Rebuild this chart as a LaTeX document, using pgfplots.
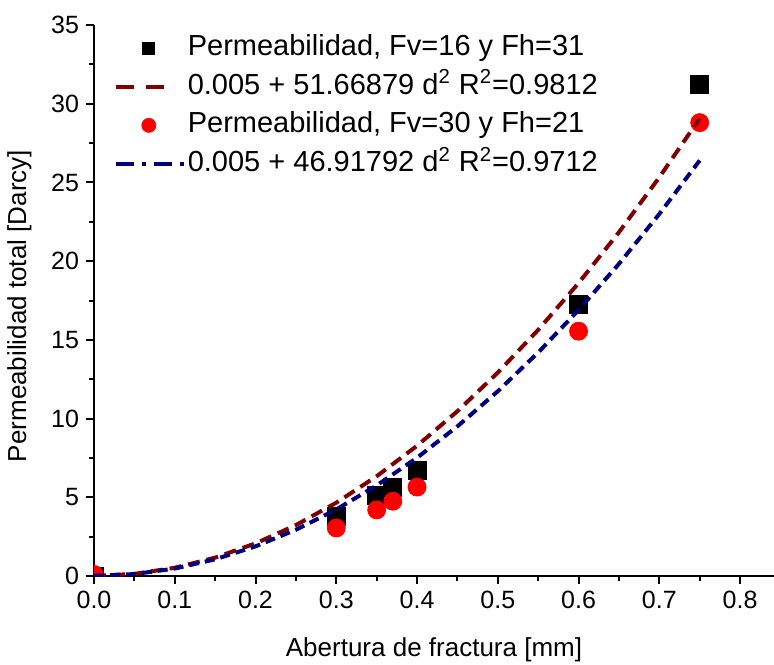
\documentclass[border=0pt]{standalone}
\usepackage{pgfplots}
\pgfplotsset{compat=1.18}
\usepackage{fontspec}
\setmainfont{Liberation Sans}
\usetikzlibrary{calc}

\definecolor{fitred}{RGB}{128,0,0}
\definecolor{fitblue}{RGB}{0,0,128}

\pgfplotsset{
    legsq/.style={legend image code/.code={\draw[##1, mark size=3pt] plot coordinates {(16.5pt,0pt)};}},
    legci/.style={legend image code/.code={\draw[##1, mark size=3.5pt] plot coordinates {(16.5pt,0pt)};}},
    legdash/.style={legend image code/.code={\draw[##1, dash pattern=on 9pt off 6pt] (0pt,0pt) -- (30pt,0pt);}},
    legdashdot/.style={legend image code/.code={\draw[##1, dash pattern=on 9pt off 4pt on 2pt off 4pt] (0pt,0pt) -- (34pt,0pt);}},
}

\begin{document}
\begin{tikzpicture}
\begin{axis}[
    name=ax,
    scale only axis,
    width=340pt, height=275.5pt,
    xmin=0, xmax=0.842,
    ymin=0, ymax=35,
    axis x line*=bottom, axis y line*=left,
    axis line style={line width=1pt},
    tick align=outside,
    major tick length=4pt, minor tick length=2.5pt,
    every tick/.style={black, line width=1pt},
    xtick={0,0.1,...,0.8}, minor x tick num=1,
    ytick={0,5,...,35}, minor y tick num=1,
    /pgf/number format/assume math mode=true,
    xticklabel style={/pgf/number format/.cd, fixed, fixed zerofill, precision=1},
    tick label style={font=\fontsize{12.5}{14}\selectfont},
    label style={font=\fontsize{13}{15}\selectfont},
    xlabel={Abertura de fractura [mm]},
    ylabel={Permeabilidad total [Darcy]},
    xlabel style={at={(axis description cs:0.5,-0.134)}, anchor=center},
    ylabel style={at={(axis description cs:-0.1096,0.49)}, anchor=center},
    clip marker paths=true,
    legend style={draw=none, fill=none, font=\fontsize{14.5}{16}\selectfont,
        at={(axis description cs:0.03,0.985)}, anchor=north west,
        xshift=-3.5pt, yshift=2.5pt,
        nodes={inner sep=1pt, text height=10.5pt, text depth=3pt},
        row sep=3.8pt},
    legend cell align=left,
]

% legend entries first, in the reference order
\addlegendimage{only marks, mark=square*, black, legsq}
\addlegendentry{Permeabilidad, Fv=16 y Fh=31}
\addlegendimage{fitred, line width=2pt, legdash}
\addlegendentry{0.005 + 51.66879 d\textsuperscript{2} R\textsuperscript{2}=0.9812}
\addlegendimage{only marks, mark=*, red, legci}
\addlegendentry{Permeabilidad, Fv=30 y Fh=21}
\addlegendimage{fitblue, line width=2pt, legdashdot}
\addlegendentry{0.005 + 46.91792 d\textsuperscript{2} R\textsuperscript{2}=0.9712}

% Permeabilidad, Fv=16 y Fh=31
\addplot[forget plot, only marks, mark=square*, mark size=4.5pt, black]
    coordinates {
    (0,0) (0.3,3.8) (0.35,5.1) (0.37,5.65) (0.4,6.7) (0.6,17.25) (0.75,31.25)
};

% Permeabilidad, Fv=30 y Fh=21
\addplot[forget plot, only marks, mark=*, mark size=4.5pt, red]
    coordinates {
    (0,0.1) (0.3,3.05) (0.35,4.2) (0.37,4.75) (0.4,5.65) (0.6,15.55) (0.75,28.8)
};

% ajuste 1
\addplot[forget plot, fitred, line width=2pt, dash pattern=on 6pt off 3.5pt]
    coordinates {
    (0,0.005) (0.05,0.1342) (0.1,0.5217) (0.15,1.1675) (0.2,2.0718)
    (0.25,3.2343) (0.3,4.6552) (0.35,6.3344) (0.4,8.2720) (0.45,10.4679)
    (0.5,12.9222) (0.55,15.6348) (0.6,18.6058) (0.65,21.8351) (0.7,25.3227)
    (0.75,29.0687)
};

% ajuste 2
\addplot[forget plot, fitblue, line width=2pt, dash pattern=on 5pt off 3pt]
    coordinates {
    (0,0.005) (0.05,0.1223) (0.1,0.4742) (0.15,1.0607) (0.2,1.8817)
    (0.25,2.9374) (0.3,4.2276) (0.35,5.7524) (0.4,7.5119) (0.45,9.5059)
    (0.5,11.7345) (0.55,14.1977) (0.6,16.8954) (0.65,19.8278) (0.7,22.9948)
    (0.75,26.3963)
};

\end{axis}
\pgfresetboundingbox
\path ($(ax.south west)+(-47pt,-44pt)$) rectangle ($(ax.north east)+(0pt,12.5pt)$);
\end{tikzpicture}
\end{document}
